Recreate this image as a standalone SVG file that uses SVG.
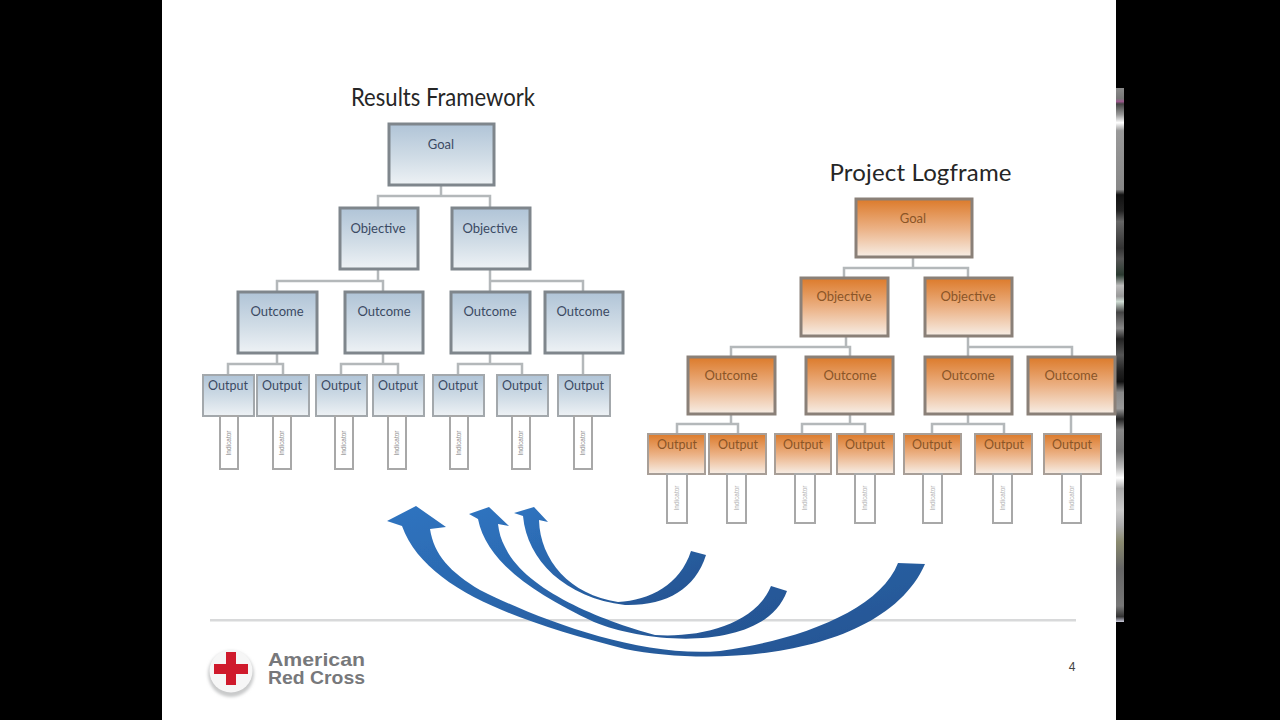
<svg xmlns="http://www.w3.org/2000/svg" width="1280" height="720" viewBox="0 0 1280 720">
<style>
.t{font-family:Lato,"Open Sans","Liberation Sans",sans-serif;text-anchor:middle}
.bl{fill:url(#blue);stroke:#7f868c}
.or{fill:url(#orange);stroke:#8a8078}
.big{stroke-width:3}
.small{stroke-width:2;stroke:#a3a8ac}
.or.small{stroke:#a89f98}
.tb{fill:#3b4a63;font-size:13px}
.tbs{fill:#3b4a63;font-size:12.5px}
.to{fill:#8a5527;font-size:13px}
.tos{fill:#8a5527;font-size:12.5px}
.ind{fill:#fff;stroke:#a8a8a8;stroke-width:2}
.it{font-family:"Liberation Sans",sans-serif;font-size:6.5px;fill:#8a8a8a;text-anchor:middle}
.lt{fill:#b0b0b0}
.c{fill:none;stroke:#b4b8ba;stroke-width:2.5}
.arr{fill:url(#arrow);filter:url(#soft)}
.title{font-family:Lato,"Open Sans","Liberation Sans",sans-serif;fill:#262626;text-anchor:middle}
.brand{font-family:"Liberation Sans",Arial,sans-serif;font-weight:700;font-size:19px;fill:#77787b}
</style>
<defs>
<linearGradient id="blue" x1="0" y1="0" x2="0" y2="1"><stop offset="0" stop-color="#b0c4d7"/><stop offset="0.55" stop-color="#d0dce6"/><stop offset="1" stop-color="#eef2f5"/></linearGradient>
<linearGradient id="orange" x1="0" y1="0" x2="0" y2="1"><stop offset="0" stop-color="#dc7a2a"/><stop offset="0.5" stop-color="#ebb083"/><stop offset="1" stop-color="#f7eee6"/></linearGradient>
<linearGradient id="arrow" x1="0" y1="0" x2="1" y2="1"><stop offset="0" stop-color="#2f74c0"/><stop offset="1" stop-color="#23528f"/></linearGradient>
<linearGradient id="noise" x1="0" y1="0" x2="0" y2="1">
<stop offset="0" stop-color="#8a8a8a"/><stop offset="0.02" stop-color="#777"/><stop offset="0.025" stop-color="#a05a90"/><stop offset="0.03" stop-color="#444"/><stop offset="0.05" stop-color="#999"/><stop offset="0.065" stop-color="#fff"/><stop offset="0.08" stop-color="#999"/><stop offset="0.19" stop-color="#888"/><stop offset="0.2" stop-color="#111"/><stop offset="0.23" stop-color="#222"/><stop offset="0.25" stop-color="#666"/><stop offset="0.3" stop-color="#333"/><stop offset="0.32" stop-color="#555"/><stop offset="0.35" stop-color="#2a3a30"/><stop offset="0.37" stop-color="#bbb"/><stop offset="0.39" stop-color="#999"/><stop offset="0.4" stop-color="#cfdcd4"/><stop offset="0.42" stop-color="#444"/><stop offset="0.45" stop-color="#888"/><stop offset="0.47" stop-color="#222"/><stop offset="0.5" stop-color="#555"/><stop offset="0.53" stop-color="#222"/><stop offset="0.55" stop-color="#111"/><stop offset="0.57" stop-color="#888"/><stop offset="0.6" stop-color="#999"/><stop offset="0.62" stop-color="#222"/><stop offset="0.64" stop-color="#888"/><stop offset="0.68" stop-color="#777"/><stop offset="0.71" stop-color="#bbb"/><stop offset="0.73" stop-color="#fff"/><stop offset="0.75" stop-color="#aaa"/><stop offset="0.79" stop-color="#ccc"/><stop offset="0.82" stop-color="#aaa"/><stop offset="0.85" stop-color="#8a8a70"/><stop offset="0.9" stop-color="#666"/><stop offset="0.97" stop-color="#777"/><stop offset="0.99" stop-color="#333"/><stop offset="1" stop-color="#ccd"/>
</linearGradient>
<filter id="soft" x="-5%" y="-5%" width="110%" height="110%"><feGaussianBlur stdDeviation="0.6"/></filter>
<filter id="blur1" x="-20%" y="-20%" width="140%" height="140%"><feGaussianBlur stdDeviation="1.5"/></filter>
</defs>

<rect width="1280" height="720" fill="#000"/>
<rect x="162" y="0" width="954" height="720" fill="#fff"/>
<rect x="1116" y="88" width="8" height="534" fill="url(#noise)"/>
<rect x="210" y="619" width="866" height="2.5" fill="#d8d9da"/>

<text class="title" x="443" y="106" font-size="25" textLength="184" lengthAdjust="spacingAndGlyphs">Results Framework</text>
<text class="title" x="920.500" y="181" font-size="24" textLength="182" lengthAdjust="spacing">Project Logframe</text>

<g id="connectors">
<path class="c" d="M441 185V196M378 208V196H490V208"/>
<path class="c" d="M378 269V281M277 292V281H383V292"/>
<path class="c" d="M490 269V281H583V292M490 281V292"/>
<path class="c" d="M277 353V364M228 375V364H283V375"/>
<path class="c" d="M383 353V364M341 375V364H398V375"/>
<path class="c" d="M490 353V364M458 375V364H522V375"/>
<path class="c" d="M583 353V375"/>
<path class="c" d="M913 257V268M844 278V268H968V278"/>
<path class="c" d="M846 336V347M731 357V347H850V357"/>
<path class="c" d="M968 336V347H1072V357M968 347V357"/>
<path class="c" d="M731 414V424M677 434V424H738V434"/>
<path class="c" d="M850 414V424M802 434V424H865V434"/>
<path class="c" d="M968 414V424M932 434V424H1004V434"/>
<path class="c" d="M1071 414V434"/>
</g>

<g id="rf-goal"><rect class="bl big" x="389" y="124" width="105" height="61"/><text class="t tb" x="441" y="149">Goal</text></g>
<g id="rf-obj1"><rect class="bl big" x="340" y="208" width="78" height="61"/><text class="t tb" x="378" y="233">Objective</text></g>
<g id="rf-obj2"><rect class="bl big" x="452" y="208" width="78" height="61"/><text class="t tb" x="490" y="233">Objective</text></g>
<g id="rf-oc1"><rect class="bl big" x="238" y="292" width="79" height="61"/><text class="t tb" x="277" y="316">Outcome</text></g>
<g id="rf-oc2"><rect class="bl big" x="345" y="292" width="78" height="61"/><text class="t tb" x="384" y="316">Outcome</text></g>
<g id="rf-oc3"><rect class="bl big" x="451" y="292" width="79" height="61"/><text class="t tb" x="490" y="316">Outcome</text></g>
<g id="rf-oc4"><rect class="bl big" x="545" y="292" width="78" height="61"/><text class="t tb" x="583" y="316">Outcome</text></g>
<g id="rf-out1"><rect class="bl small" x="203" y="375" width="51" height="41"/><text class="t tbs" x="228" y="390">Output</text></g>
<g id="rf-out2"><rect class="bl small" x="257" y="375" width="52" height="41"/><text class="t tbs" x="282" y="390">Output</text></g>
<g id="rf-out3"><rect class="bl small" x="316" y="375" width="51" height="41"/><text class="t tbs" x="341" y="390">Output</text></g>
<g id="rf-out4"><rect class="bl small" x="373" y="375" width="51" height="41"/><text class="t tbs" x="398" y="390">Output</text></g>
<g id="rf-out5"><rect class="bl small" x="433" y="375" width="51" height="41"/><text class="t tbs" x="458" y="390">Output</text></g>
<g id="rf-out6"><rect class="bl small" x="497" y="375" width="51" height="41"/><text class="t tbs" x="522" y="390">Output</text></g>
<g id="rf-out7"><rect class="bl small" x="558" y="375" width="52" height="41"/><text class="t tbs" x="584" y="390">Output</text></g>
<g id="rf-ind1"><rect class="ind" x="220" y="416" width="18" height="53"/><text class="it" transform="translate(231 443) rotate(-90)">Indicator</text></g>
<g id="rf-ind2"><rect class="ind" x="273" y="416" width="18" height="53"/><text class="it" transform="translate(284 443) rotate(-90)">Indicator</text></g>
<g id="rf-ind3"><rect class="ind" x="335" y="416" width="18" height="53"/><text class="it" transform="translate(346 443) rotate(-90)">Indicator</text></g>
<g id="rf-ind4"><rect class="ind" x="388" y="416" width="18" height="53"/><text class="it" transform="translate(399 443) rotate(-90)">Indicator</text></g>
<g id="rf-ind5"><rect class="ind" x="450" y="416" width="18" height="53"/><text class="it" transform="translate(461 443) rotate(-90)">Indicator</text></g>
<g id="rf-ind6"><rect class="ind" x="512" y="416" width="18" height="53"/><text class="it" transform="translate(523 443) rotate(-90)">Indicator</text></g>
<g id="rf-ind7"><rect class="ind" x="574" y="416" width="18" height="53"/><text class="it" transform="translate(585 443) rotate(-90)">Indicator</text></g>

<g id="lf-goal"><rect class="or big" x="856" y="199" width="116" height="58"/><text class="t to" x="913" y="223">Goal</text></g>
<g id="lf-obj1"><rect class="or big" x="801" y="278" width="87" height="58"/><text class="t to" x="844" y="301">Objective</text></g>
<g id="lf-obj2"><rect class="or big" x="925" y="278" width="87" height="58"/><text class="t to" x="968" y="301">Objective</text></g>
<g id="lf-oc1"><rect class="or big" x="688" y="357" width="87" height="57"/><text class="t to" x="731" y="380">Outcome</text></g>
<g id="lf-oc2"><rect class="or big" x="806" y="357" width="87" height="57"/><text class="t to" x="850" y="380">Outcome</text></g>
<g id="lf-oc3"><rect class="or big" x="925" y="357" width="87" height="57"/><text class="t to" x="968" y="380">Outcome</text></g>
<g id="lf-oc4"><rect class="or big" x="1028" y="357" width="87" height="57"/><text class="t to" x="1071" y="380">Outcome</text></g>
<g id="lf-out1"><rect class="or small" x="648" y="434" width="57" height="40"/><text class="t tos" x="677" y="449">Output</text></g>
<g id="lf-out2"><rect class="or small" x="709" y="434" width="57" height="40"/><text class="t tos" x="738" y="449">Output</text></g>
<g id="lf-out3"><rect class="or small" x="775" y="434" width="56" height="40"/><text class="t tos" x="803" y="449">Output</text></g>
<g id="lf-out4"><rect class="or small" x="837" y="434" width="57" height="40"/><text class="t tos" x="865" y="449">Output</text></g>
<g id="lf-out5"><rect class="or small" x="904" y="434" width="57" height="40"/><text class="t tos" x="932" y="449">Output</text></g>
<g id="lf-out6"><rect class="or small" x="975" y="434" width="57" height="40"/><text class="t tos" x="1004" y="449">Output</text></g>
<g id="lf-out7"><rect class="or small" x="1044" y="434" width="57" height="40"/><text class="t tos" x="1072" y="449">Output</text></g>
<g id="lf-ind1"><rect class="ind" x="667" y="474" width="20" height="49"/><text class="it lt" transform="translate(679 498) rotate(-90)">Indicator</text></g>
<g id="lf-ind2"><rect class="ind" x="727" y="474" width="19" height="49"/><text class="it lt" transform="translate(739 498) rotate(-90)">Indicator</text></g>
<g id="lf-ind3"><rect class="ind" x="795" y="474" width="20" height="49"/><text class="it lt" transform="translate(807 498) rotate(-90)">Indicator</text></g>
<g id="lf-ind4"><rect class="ind" x="855" y="474" width="20" height="49"/><text class="it lt" transform="translate(867 498) rotate(-90)">Indicator</text></g>
<g id="lf-ind5"><rect class="ind" x="923" y="474" width="19" height="49"/><text class="it lt" transform="translate(935 498) rotate(-90)">Indicator</text></g>
<g id="lf-ind6"><rect class="ind" x="993" y="474" width="19" height="49"/><text class="it lt" transform="translate(1005 498) rotate(-90)">Indicator</text></g>
<g id="lf-ind7"><rect class="ind" x="1062" y="474" width="19" height="49"/><text class="it lt" transform="translate(1074 498) rotate(-90)">Indicator</text></g>

<g id="arrows">
<path class="arr" d="M402 526C425 590 520 622 625 649C720 668 885 655 925 564L898 563C880 610 800 640 720 651C640 658 540 620 480 590C450 572 434 555 430 529L446 527L416 506L387 521Z"/>
<path class="arr" d="M478 519C486 560 530 592 594 622C650 645 765 652 787 591L771 586C755 625 700 638 655 635C600 620 525 590 505 547C501 540 499 532 498 524L509 526L489 507L469 514Z"/>
<path class="arr" d="M523 516C527 560 565 598 625 605C665 606 695 590 706 555L691 551C680 585 650 600 618 602C570 595 540 560 539 520L548 522L534 507L514 513Z"/>
</g>

<g id="logo">
<circle cx="231" cy="674" r="23" fill="#c9cacb" filter="url(#blur1)"/>
<circle cx="231" cy="671" r="21.500" fill="#f6f6f6"/>
<path d="M226 652H236V664H248V674H236V685H226V674H214V664H226Z" fill="#cf1a2c"/>
<text class="brand" x="268" y="665.500" textLength="97" lengthAdjust="spacingAndGlyphs">American</text>
<text class="brand" x="268" y="684" textLength="97" lengthAdjust="spacingAndGlyphs">Red Cross</text>
</g>
<text x="1072" y="671" font-family="Liberation Sans, Arial, sans-serif" font-size="12" fill="#444" text-anchor="middle">4</text>
</svg>
